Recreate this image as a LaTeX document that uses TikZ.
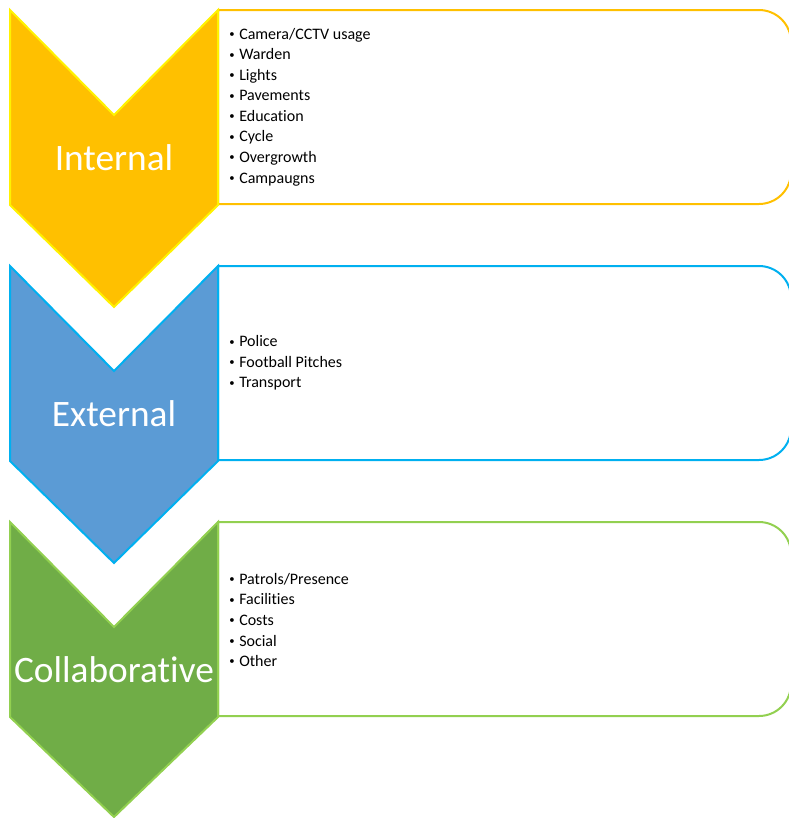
\documentclass[tikz,border=0pt]{standalone}
\usepackage{fontspec}
\setmainfont{Carlito}[Ligatures=NoCommon]
\definecolor{intfill}{HTML}{FFC000}
\definecolor{intline}{HTML}{FFF200}
\definecolor{extfill}{HTML}{5B9BD5}
\definecolor{extline}{HTML}{00B0F0}
\definecolor{colfill}{HTML}{70AD47}
\definecolor{colline}{HTML}{92D050}
\tikzstyle{chev} = [line width=1.5pt, line join=miter]
\tikzstyle{panel} = [line width=1.5pt, fill=white]
\tikzstyle{tag} = [text=white, inner sep=0pt, font=\fontsize{28}{30}\selectfont]
\tikzstyle{items} = [anchor=west, align=left, inner sep=0pt,
    font=\fontsize{12}{15.4}\selectfont]
\newcommand{\itm}[1]{\makebox[7.5pt][l]{\raisebox{1.3pt}{\fontsize{8}{8}\selectfont\textbullet}}#1}

\begin{document}
\begin{tikzpicture}[x=0.75pt,y=-0.75pt]
  \useasboundingbox (0,0) rectangle (789,818);

  % internal
  \draw[panel, draw=intfill] (218,204) -- (218,10)
    {[rounded corners=24] -- (791,10) -- (791,204)} -- cycle;
  \draw[chev, draw=intline, fill=intfill] (10,10) -- (114,115) -- (218,10)
    -- (218,205) -- (114,307) -- (10,205) -- cycle;
  \node[tag] (int) at (114,158) {Internal};
  \node[items] (intlist) at (229,107) {\itm{Camera/CCTV usage}\\ \itm{Warden}\\
    \itm{Lights}\\ \itm{Pavements}\\ \itm{Education}\\ \itm{Cycle}\\
    \itm{Overgrowth}\\ \itm{Campaugns}};

  % external
  \draw[panel, draw=extline] (218,460) -- (218,266)
    {[rounded corners=24] -- (791,266) -- (791,460)} -- cycle;
  \draw[chev, draw=extline, fill=extfill] (10,266) -- (114,371) -- (218,266)
    -- (218,461) -- (114,563) -- (10,461) -- cycle;
  \node[tag] (ext) at (114,414) {External};
  \node[items] (extlist) at (229,363) {\itm{Police}\\ \itm{Football Pitches}\\
    \itm{Transport}};

  % collaborative
  \draw[panel, draw=colline] (218,716) -- (218,522)
    {[rounded corners=24] -- (791,522) -- (791,716)} -- cycle;
  \draw[chev, draw=colline, fill=colfill] (10,522) -- (114,627) -- (218,522)
    -- (218,717) -- (114,817) -- (10,717) -- cycle;
  \node[tag] (col) at (114,670) {Collaborative};
  \node[items] (collist) at (229,620) {\itm{Patrols/Presence}\\ \itm{Facilities}\\
    \itm{Costs}\\ \itm{Social}\\ \itm{Other}};
\end{tikzpicture}
\end{document}
